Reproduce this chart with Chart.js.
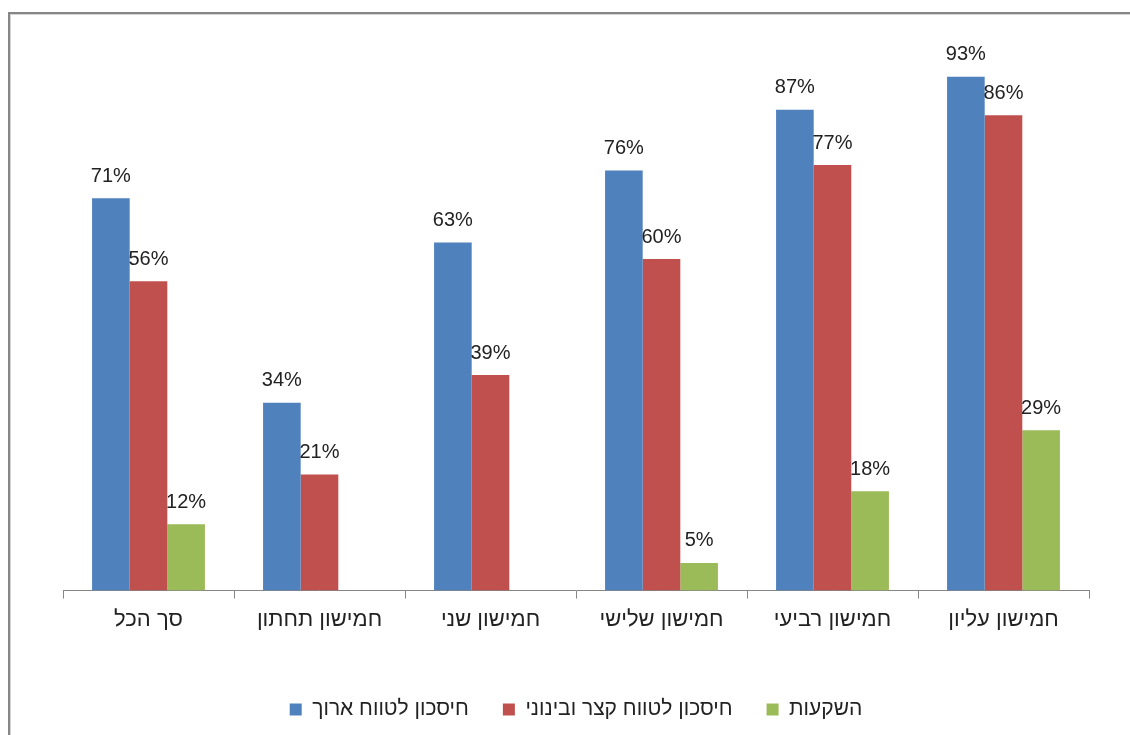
<!DOCTYPE html>
<html>
<head>
<meta charset="utf-8">
<script src="https://cdn.jsdelivr.net/npm/chart.js@4"></script>
<style>
  html, body { margin: 0; padding: 0; background: #fff; }
  #wrap { position: relative; width: 1130px; height: 735px; overflow: hidden; }
  #frame { position: absolute; left: 8px; top: 12px; width: 1200px; height: 800px;
           border-left: 2px solid #868686; border-top: 2px solid #868686; }
  #frame2 { position: absolute; left: 10px; top: 14px; width: 1200px; height: 800px;
            border-left: 1px solid #d4d4d4; border-top: 1px solid #d4d4d4; }
  canvas { position: absolute; left: 0; top: 0; }
</style>
</head>
<body>
<div id="wrap">
  <div id="frame"></div>
  <div id="frame2"></div>
  <canvas id="myChart" width="1130" height="735"></canvas>
</div>
<script>
// data
var categories = ['סך הכל', 'חמישון תחתון', 'חמישון שני', 'חמישון שלישי', 'חמישון רביעי', 'חמישון עליון'];
var seriesNames = ['חיסכון לטווח ארוך', 'חיסכון לטווח קצר ובינוני', 'השקעות'];
var longTerm = [71, 34, 63, 76, 87, 93];
var shortTerm = [56, 21, 39, 60, 77, 86];
var investments = [12, null, null, 5, 18, 29];

var fontFam = '"Liberation Sans", "DejaVu Sans", sans-serif';

// draws the % labels above each bar
var barLabels = {
    id: 'barLabels',
    afterDatasetsDraw(chart) {
        var ctx = chart.ctx;
        ctx.save();
        ctx.font = '20px ' + fontFam;
        ctx.fillStyle = '#222';
        ctx.textAlign = 'center';
        ctx.textBaseline = 'bottom';
        chart.data.datasets.forEach(function(ds, i) {
            var meta = chart.getDatasetMeta(i);
            meta.data.forEach(function(bar, j) {
                var v = ds.data[j];
                if (v === null || v === undefined) return;
                ctx.fillText(v + '%', bar.x, bar.y - 12);
            });
        });
        ctx.restore();
    }
};

const ctx = document.getElementById('myChart');
const myChart = new Chart(ctx, {
    type: 'bar',
    data: {
        labels: categories,
        datasets: [
            { label: seriesNames[0], data: longTerm, backgroundColor: '#4F81BD' },
            { label: seriesNames[1], data: shortTerm, backgroundColor: '#C0504D' },
            { label: seriesNames[2], data: investments, backgroundColor: '#9BBB59' }
        ]
    },
    options: {
        responsive: false,
        animation: false,
        layout: { padding: { left: 63, right: 41, top: 38, bottom: 5 } },
        datasets: {
            bar: { categoryPercentage: 0.66, barPercentage: 1.0 }
        },
        scales: {
            x: {
                border: { color: '#868686', width: 1 },
                grid: { drawOnChartArea: false, drawTicks: true, tickLength: 8, color: '#868686' },
                ticks: { color: '#222', font: { family: fontFam, size: 22 }, padding: 8 },
                // empty title used as a spacer above the legend
                title: { display: true, text: ' ', font: { size: 10 }, padding: { top: 0, bottom: 12 } }
            },
            y: {
                display: false,
                min: 0,
                max: 100
            }
        },
        plugins: {
            legend: {
                position: 'bottom',
                labels: {
                    boxWidth: 12,
                    boxHeight: 12,
                    padding: 34,
                    color: '#222',
                    font: { family: fontFam, size: 21 }
                }
            },
            tooltip: { enabled: false }
        }
    },
    plugins: [barLabels]
});
</script>
</body>
</html>
